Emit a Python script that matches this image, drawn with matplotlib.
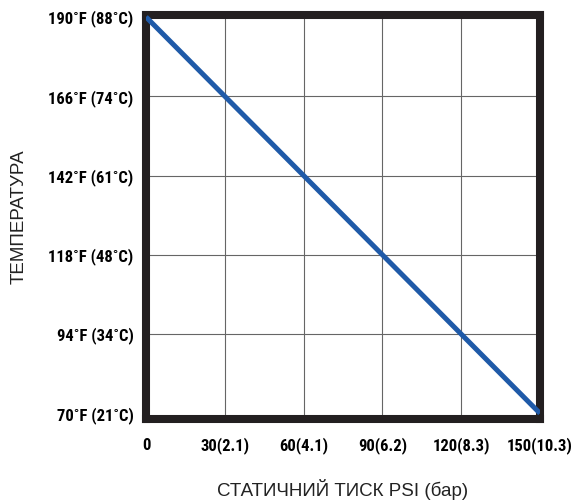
import matplotlib.pyplot as plt

# дані
pressure_psi = [0, 150]
temp_f = [190, 70]

x_ticks = [0, 30, 60, 90, 120, 150]
x_labels = ["0", "30(2.1)", "60(4.1)", "90(6.2)", "120(8.3)", "150(10.3)"]
y_ticks = [70, 94, 118, 142, 166, 190]
y_labels = ["70˚F (21˚C)", "94˚F (34˚C)", "118˚F (48˚C)",
            "142˚F (61˚C)", "166˚F (74˚C)", "190˚F (88˚C)"]

tick_font = ['Roboto Condensed', 'PT Sans Narrow', 'DejaVu Sans']
label_font = ['Liberation Sans', 'DejaVu Sans']

fig = plt.figure(figsize=(5.75, 5.04), dpi=100)
ax = fig.add_axes([0.2539, 0.1677, 0.6852, 0.8016])

ax.plot(pressure_psi, temp_f, color='#1f5aa8', lw=3.6, solid_capstyle='butt', zorder=3)

ax.set_xlim(0, 150)
ax.set_ylim(68.15, 190.45)
ax.set_xticks(x_ticks)
ax.set_yticks(y_ticks)
ax.set_xticklabels(x_labels, family=tick_font, fontweight='bold', fontsize=12)
ax.set_yticklabels(y_labels, family=tick_font, fontweight='bold', fontsize=12)
ax.tick_params(length=0, pad=9)
ax.tick_params(axis='x', pad=22)
# вирівнювання підписів осі x по базовій лінії
for lbl in ax.get_xticklabels():
    lbl.set_va('baseline')

ax.grid(True, color='#666666', lw=0.8)
ax.set_axisbelow(True)
# крайні лінії сітки ховаються під рамкою
for gl in (ax.yaxis.get_gridlines()[0], ax.yaxis.get_gridlines()[-1]):
    gl.set_visible(False)

for s in ax.spines.values():
    s.set_linewidth(5.8)
    s.set_color('#231f20')

fig.text(343 / 575, 1 - 490 / 504, "СТАТИЧНИЙ ТИСК PSI (бар)", family=label_font,
         fontsize=13.5, color='#222222', ha='center', va='center')
fig.text(19 / 575, 1 - 217 / 504, "ТЕМПЕРАТУРА", family=label_font, rotation=90,
         fontsize=13.5, color='#222222', ha='center', va='center')

fig.savefig("out.png", dpi=100)
